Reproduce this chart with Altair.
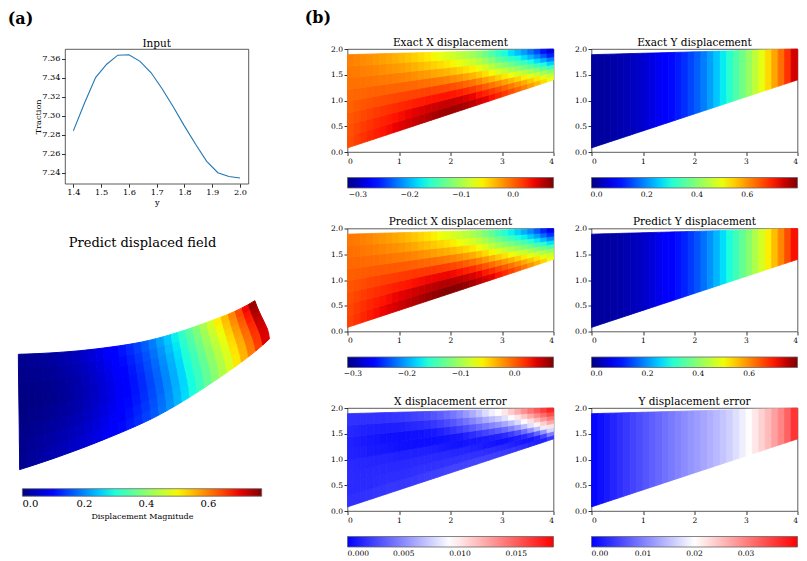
import math
import altair as alt
import numpy as np
import pandas as pd

FONT = "DejaVu Serif"

# ---------------------------------------------------------------- input load
input_y = [1.40, 1.44, 1.48, 1.52, 1.56, 1.60, 1.64, 1.68,
           1.72, 1.76, 1.80, 1.84, 1.88, 1.92, 1.96, 2.00]
traction = [7.284, 7.313, 7.340, 7.354, 7.3635, 7.364, 7.357, 7.345,
            7.328, 7.309, 7.289, 7.270, 7.252, 7.240, 7.236, 7.2345]

# ---------------------------------------------------------------- beam mesh
# x stations of the mesh and fractions of the local depth (lower edge -> upper edge)
beam_x = [0.0, 0.125, 0.25, 0.375, 0.5, 0.625, 0.75, 0.875, 1.0, 1.125, 1.25,
          1.375, 1.5, 1.625, 1.75, 1.875, 2.0, 2.125, 2.25, 2.375, 2.5, 2.625,
          2.75, 2.875, 3.0, 3.125, 3.25, 3.375, 3.5, 3.625, 3.75, 3.875, 4.0]
beam_s = [0.0, 0.125, 0.25, 0.375, 0.5, 0.625, 0.75, 0.875, 1.0]
lower_edge = [0.08, 1.40]   # y of the lower boundary at x = 0 and x = 4
upper_edge = [1.89, 2.00]   # y of the upper boundary at x = 0 and x = 4
BEAM_LEN = 4.0

# exact horizontal displacement, one row per depth fraction in beam_s
exact_ux = [
    [0.008, 0.014, 0.020, 0.025, 0.030, 0.034, 0.038, 0.042, 0.046, 0.050, 0.055, 0.059, 0.063, 0.067, 0.070, 0.073, 0.074,
     0.073, 0.070, 0.066, 0.060, 0.053, 0.046, 0.038, 0.030, 0.021, 0.012, 0.001, -0.010, -0.022, -0.034, -0.050, -0.070],
    [0.007, 0.012, 0.017, 0.022, 0.026, 0.030, 0.033, 0.037, 0.040, 0.044, 0.048, 0.051, 0.054, 0.057, 0.060, 0.062, 0.063,
     0.061, 0.058, 0.054, 0.048, 0.041, 0.033, 0.025, 0.016, 0.007, -0.003, -0.014, -0.025, -0.037, -0.050, -0.066, -0.084],
    [0.004, 0.009, 0.013, 0.017, 0.020, 0.023, 0.026, 0.029, 0.031, 0.034, 0.036, 0.039, 0.041, 0.043, 0.044, 0.045, 0.045,
     0.043, 0.039, 0.034, 0.028, 0.020, 0.012, 0.003, -0.007, -0.016, -0.026, -0.037, -0.049, -0.062, -0.076, -0.090, -0.106],
    [0.002, 0.005, 0.008, 0.011, 0.013, 0.015, 0.016, 0.018, 0.019, 0.021, 0.022, 0.023, 0.024, 0.024, 0.024, 0.024, 0.023,
     0.020, 0.015, 0.009, 0.003, -0.006, -0.015, -0.025, -0.035, -0.045, -0.056, -0.068, -0.080, -0.093, -0.108, -0.124, -0.142],
    [-0.001, 0.001, 0.003, 0.004, 0.005, 0.006, 0.006, 0.007, 0.007, 0.007, 0.007, 0.006, 0.005, 0.004, 0.003, 0.001, -0.002,
     -0.006, -0.011, -0.017, -0.024, -0.034, -0.044, -0.055, -0.066, -0.077, -0.088, -0.100, -0.113, -0.127, -0.143, -0.160, -0.180],
    [-0.004, -0.003, -0.003, -0.003, -0.003, -0.003, -0.004, -0.005, -0.006, -0.007, -0.009, -0.011, -0.013, -0.016, -0.019, -0.022, -0.026,
     -0.031, -0.037, -0.043, -0.050, -0.061, -0.072, -0.085, -0.097, -0.108, -0.120, -0.132, -0.145, -0.160, -0.177, -0.196, -0.218],
    [-0.007, -0.007, -0.008, -0.009, -0.010, -0.012, -0.014, -0.016, -0.018, -0.020, -0.023, -0.027, -0.031, -0.035, -0.039, -0.043, -0.048,
     -0.054, -0.061, -0.068, -0.075, -0.087, -0.099, -0.112, -0.125, -0.137, -0.150, -0.163, -0.176, -0.192, -0.210, -0.231, -0.254],
    [-0.010, -0.011, -0.013, -0.015, -0.017, -0.020, -0.023, -0.026, -0.029, -0.033, -0.037, -0.042, -0.047, -0.052, -0.057, -0.063, -0.069,
     -0.076, -0.083, -0.090, -0.098, -0.111, -0.124, -0.138, -0.152, -0.165, -0.178, -0.191, -0.204, -0.221, -0.240, -0.262, -0.287],
    [-0.012, -0.014, -0.017, -0.020, -0.023, -0.026, -0.030, -0.034, -0.038, -0.043, -0.048, -0.054, -0.060, -0.066, -0.073, -0.080, -0.087,
     -0.094, -0.102, -0.110, -0.118, -0.131, -0.145, -0.159, -0.174, -0.187, -0.201, -0.214, -0.228, -0.245, -0.265, -0.288, -0.315],
]

# absolute error of the predicted horizontal displacement
err_ux = [
    [0.0018, 0.0018, 0.0018, 0.0019, 0.0020, 0.0020, 0.0020, 0.0021, 0.0021, 0.0021, 0.0022, 0.0022, 0.0023, 0.0024, 0.0025, 0.0025, 0.0026,
     0.0027, 0.0027, 0.0027, 0.0027, 0.0027, 0.0026, 0.0026, 0.0025, 0.0024, 0.0023, 0.0021, 0.0019, 0.0017, 0.0014, 0.0011, 0.0008],
    [0.0016, 0.0016, 0.0016, 0.0016, 0.0017, 0.0017, 0.0018, 0.0018, 0.0018, 0.0018, 0.0018, 0.0019, 0.0020, 0.0020, 0.0020, 0.0021, 0.0021,
     0.0021, 0.0021, 0.0021, 0.0021, 0.0020, 0.0020, 0.0019, 0.0018, 0.0017, 0.0015, 0.0013, 0.0010, 0.0007, 0.0005, 0.0018, 0.0040],
    [0.0014, 0.0014, 0.0014, 0.0014, 0.0014, 0.0014, 0.0014, 0.0014, 0.0014, 0.0014, 0.0015, 0.0015, 0.0015, 0.0015, 0.0015, 0.0015, 0.0015,
     0.0015, 0.0015, 0.0015, 0.0014, 0.0013, 0.0012, 0.0011, 0.0010, 0.0009, 0.0007, 0.0005, 0.0002, 0.0011, 0.0025, 0.0048, 0.0075],
    [0.0016, 0.0016, 0.0015, 0.0015, 0.0015, 0.0015, 0.0015, 0.0015, 0.0015, 0.0015, 0.0015, 0.0015, 0.0015, 0.0015, 0.0014, 0.0014, 0.0013,
     0.0012, 0.0011, 0.0010, 0.0008, 0.0006, 0.0004, 0.0002, 0.0002, 0.0005, 0.0010, 0.0019, 0.0030, 0.0045, 0.0062, 0.0081, 0.0100],
    [0.0013, 0.0013, 0.0012, 0.0012, 0.0011, 0.0011, 0.0010, 0.0010, 0.0009, 0.0009, 0.0008, 0.0008, 0.0007, 0.0007, 0.0006, 0.0004, 0.0002,
     0.0001, 0.0002, 0.0005, 0.0009, 0.0012, 0.0016, 0.0020, 0.0025, 0.0031, 0.0038, 0.0049, 0.0062, 0.0076, 0.0092, 0.0106, 0.0120],
    [0.0011, 0.0010, 0.0009, 0.0008, 0.0007, 0.0006, 0.0005, 0.0004, 0.0003, 0.0002, 0.0002, 0.0002, 0.0002, 0.0003, 0.0004, 0.0007, 0.0011,
     0.0014, 0.0018, 0.0022, 0.0027, 0.0031, 0.0036, 0.0040, 0.0045, 0.0053, 0.0062, 0.0073, 0.0086, 0.0099, 0.0113, 0.0126, 0.0138],
    [0.0012, 0.0011, 0.0010, 0.0009, 0.0008, 0.0007, 0.0007, 0.0007, 0.0007, 0.0008, 0.0009, 0.0010, 0.0011, 0.0013, 0.0015, 0.0019, 0.0023,
     0.0027, 0.0032, 0.0037, 0.0043, 0.0049, 0.0055, 0.0060, 0.0066, 0.0075, 0.0084, 0.0095, 0.0107, 0.0119, 0.0131, 0.0142, 0.0153],
    [0.0016, 0.0015, 0.0015, 0.0014, 0.0014, 0.0014, 0.0014, 0.0014, 0.0015, 0.0016, 0.0018, 0.0019, 0.0021, 0.0023, 0.0026, 0.0030, 0.0034,
     0.0039, 0.0045, 0.0051, 0.0058, 0.0066, 0.0074, 0.0080, 0.0086, 0.0095, 0.0105, 0.0116, 0.0127, 0.0137, 0.0148, 0.0158, 0.0168],
    [0.0020, 0.0020, 0.0020, 0.0020, 0.0021, 0.0021, 0.0022, 0.0023, 0.0024, 0.0025, 0.0027, 0.0029, 0.0031, 0.0034, 0.0037, 0.0041, 0.0045,
     0.0051, 0.0057, 0.0065, 0.0073, 0.0082, 0.0092, 0.0099, 0.0106, 0.0116, 0.0126, 0.0136, 0.0146, 0.0155, 0.0165, 0.0174, 0.0183],
]

# exact vertical displacement along the beam (at beam_x)
exact_uy = [0.000, 0.001, 0.003, 0.006, 0.010, 0.015, 0.021, 0.028, 0.036, 0.046, 0.057,
            0.069, 0.082, 0.096, 0.111, 0.128, 0.148, 0.171, 0.197, 0.226, 0.257, 0.289,
            0.323, 0.359, 0.397, 0.436, 0.476, 0.517, 0.559, 0.606, 0.656, 0.711, 0.770]

# absolute error of the predicted vertical displacement (at beam_x)
err_uy = [0.0000, 0.0008, 0.0016, 0.0024, 0.0032, 0.0040, 0.0048, 0.0056, 0.0064, 0.0071, 0.0078,
          0.0085, 0.0092, 0.0099, 0.0106, 0.0113, 0.0120, 0.0127, 0.0134, 0.0141, 0.0149, 0.0158,
          0.0168, 0.0180, 0.0194, 0.0210, 0.0227, 0.0245, 0.0264, 0.0285, 0.0308, 0.0338, 0.0380]

# predicted fields: prediction = exact field shifted by its error
pred_ux = [[u + e for u, e in zip(ru, re)] for ru, re in zip(exact_ux, err_ux)]
pred_uy = [u - e for u, e in zip(exact_uy, err_uy)]

# colour bar limits
exact_x_range = (-0.32, 0.078)
pred_x_range = (-0.31, 0.072)
exact_y_range = (-0.02, 0.80)
pred_y_range = (-0.02, 0.79)
err_x_range = (0.0, 0.0183)
err_y_range = (0.0, 0.040)
mag_range = (0.0, 0.772)

# ---------------------------------------------------------------- colormaps
JET_R = [(0.0, 0.0), (0.35, 0.0), (0.66, 1.0), (0.89, 1.0), (1.0, 0.5)]
JET_G = [(0.0, 0.0), (0.125, 0.0), (0.375, 1.0), (0.64, 1.0), (0.91, 0.0), (1.0, 0.0)]
JET_B = [(0.0, 0.5), (0.11, 1.0), (0.34, 1.0), (0.65, 0.0), (1.0, 0.0)]
JET_T = sorted({t for seg in (JET_R, JET_G, JET_B) for t, _ in seg})


def _channel(seg, t):
    return float(np.interp(t, [a for a, _ in seg], [b for _, b in seg]))


def _hex(r, g, b):
    return "#%02x%02x%02x" % tuple(int(round(c * 255)) for c in (r, g, b))


JET_COLORS = [_hex(_channel(JET_R, t), _channel(JET_G, t), _channel(JET_B, t)) for t in JET_T]


def jet(lo, hi, edge_pad=0.0):
    # edge_pad keeps the outline scale distinct from the fill scale (separate legends)
    dom = [lo + t * (hi - lo) for t in JET_T]
    dom[-1] += edge_pad
    return alt.Scale(domain=dom, range=JET_COLORS, interpolate="rgb", clamp=True)


def bwr(lo, hi, edge_pad=0.0):
    return alt.Scale(domain=[lo, (lo + hi) / 2, hi + edge_pad],
                     range=["#0000ff", "#ffffff", "#ff0000"], interpolate="rgb", clamp=True)


# ---------------------------------------------------------------- geometry helpers
def edge_y(x, edge):
    return edge[0] + (edge[1] - edge[0]) * x / BEAM_LEN


def node_y(x, s):
    lo, hi = edge_y(x, lower_edge), edge_y(x, upper_edge)
    return lo + s * (hi - lo)


def mesh_cells(grid):
    """Quadrilateral cells of the beam mesh as two-point area segments."""
    rows, cid = [], 0
    for i in range(len(beam_s) - 1):
        for j in range(len(beam_x) - 1):
            v = (grid[i][j] + grid[i][j + 1] + grid[i + 1][j] + grid[i + 1][j + 1]) / 4
            for xx in (beam_x[j], beam_x[j + 1]):
                rows.append(dict(cell=cid, x=xx, y=node_y(xx, beam_s[i]),
                                 y2=node_y(xx, beam_s[i + 1]), v=v))
            cid += 1
    return pd.DataFrame(rows)


def strip_cells(values):
    """Full-depth strips for a field that only varies along the beam."""
    rows = []
    for j in range(len(beam_x) - 1):
        v = (values[j] + values[j + 1]) / 2
        for xx in (beam_x[j], beam_x[j + 1]):
            rows.append(dict(cell=j, x=xx, y=node_y(xx, 0.0), y2=node_y(xx, 1.0), v=v))
    return pd.DataFrame(rows)


def label(text, dx, dy, size, weight="normal", align="center"):
    """A text placed relative to the top-left corner of a plot (titles and tags)."""
    return alt.Chart(pd.DataFrame({"t": [text]})).mark_text(
        font=FONT, fontSize=size, fontWeight=weight, align=align, baseline="alphabetic",
        color="black",
    ).encode(text="t:N", x=alt.value(dx), y=alt.value(dy))


# ---------------------------------------------------------------- field panels
PW, PH = 206, 103


def field_panel(df, title, scale_fn, rng, ticks, fmt, tag=None):
    legend = alt.Legend(type="gradient", orient="none", legendX=0, legendY=128.5,
                        direction="horizontal", gradientLength=PW, gradientThickness=10.5,
                        title=None, values=ticks, format=fmt, labelFont=FONT,
                        labelFontSize=7.5, labelColor="black", labelAlign="center",
                        labelOffset=2.5, labelOverlap=False, gradientStrokeColor="#666",
                        gradientStrokeWidth=0.8, padding=0)
    field = alt.Chart(df).mark_area(opacity=1, strokeWidth=0.8).encode(
        x=alt.X("x:Q", scale=alt.Scale(domain=[0, 4], nice=False, zero=False),
                axis=alt.Axis(values=[0, 1, 2, 3, 4], format="d", title=None)),
        y=alt.Y("y:Q", stack=None, scale=alt.Scale(domain=[0, 2], nice=False, zero=False),
                axis=alt.Axis(values=[0, 0.5, 1, 1.5, 2], format=".1f", title=None)),
        y2="y2:Q",
        detail="cell:N",
        color=alt.Color("v:Q", scale=scale_fn(*rng), legend=legend),
        stroke=alt.Stroke("v:Q", scale=scale_fn(*rng, edge_pad=1e-9), legend=None),
    )
    layers = [field, label(title, PW / 2, -3.3, 10.5)]
    if tag is not None:
        layers.append(tag)
    return alt.layer(*layers).properties(width=PW, height=PH)


p_exact_x = field_panel(mesh_cells(exact_ux), "Exact X displacement", jet, exact_x_range,
                        [-0.3, -0.2, -0.1, 0.0], ".1f",
                        tag=label("(b)", -42.7, -25.6, 16, "bold", "left"))
p_exact_y = field_panel(strip_cells(exact_uy), "Exact Y displacement", jet, exact_y_range,
                        [0.0, 0.2, 0.4, 0.6], ".1f")
p_pred_x = field_panel(mesh_cells(pred_ux), "Predict X displacement", jet, pred_x_range,
                       [-0.3, -0.2, -0.1, 0.0], ".1f")
p_pred_y = field_panel(strip_cells(pred_uy), "Predict Y displacement", jet, pred_y_range,
                       [0.0, 0.2, 0.4, 0.6], ".1f")
p_err_x = field_panel(mesh_cells(err_ux), "X displacement error", bwr, err_x_range,
                      [0.0, 0.005, 0.010, 0.015], ".3f")
p_err_y = field_panel(strip_cells(err_uy), "Y displacement error", bwr, err_y_range,
                      [0.0, 0.01, 0.02, 0.03], ".2f")

# ---------------------------------------------------------------- input chart
IW, IH = 183.4, 134.7
input_df = pd.DataFrame({"y": input_y, "traction": traction})
input_line = alt.Chart(input_df).mark_line(color="#1f77b4", strokeWidth=1.1).encode(
    x=alt.X("y:Q", scale=alt.Scale(domain=[1.37, 2.03], nice=False, zero=False),
            axis=alt.Axis(values=[1.4, 1.5, 1.6, 1.7, 1.8, 1.9, 2.0], format=".1f",
                          title="y", labelFontSize=8.2, titleFontSize=8.2, titlePadding=3)),
    y=alt.Y("traction:Q", scale=alt.Scale(domain=[7.2285, 7.370], nice=False, zero=False),
            axis=alt.Axis(values=[7.24, 7.26, 7.28, 7.30, 7.32, 7.34, 7.36], format=".2f",
                          title="Traction", labelFontSize=8.2, titleFontSize=8.2,
                          titlePadding=-1)),
)
input_chart = alt.layer(
    input_line,
    label("Input", IW / 2, -2.3, 10.5),
    label("(a)", -57.3, -24.6, 16, "bold", "left"),
).properties(width=IW, height=IH)

# ---------------------------------------------------------------- displaced beam
features = []
for i in range(len(beam_s) - 1):
    for j in range(len(beam_x) - 1):
        corners, mags = [], []
        for (ii, jj) in ((i, j), (i, j + 1), (i + 1, j + 1), (i + 1, j)):
            x0 = beam_x[jj]
            ux, uy = pred_ux[ii][jj], pred_uy[jj]
            corners.append([x0 + ux, node_y(x0, beam_s[ii]) + uy])
            mags.append(math.hypot(ux, uy))
        corners.append(corners[0])
        features.append({"type": "Feature",
                         "geometry": {"type": "Polygon", "coordinates": [corners]},
                         "properties": {"m": sum(mags) / 4}})

DISP_W, DISP_H = 155, 200
mag_legend = alt.Legend(type="gradient", orient="none", legendX=-42.6, legendY=237.7,
                        direction="horizontal", gradientLength=239.3, gradientThickness=7.5,
                        title="Displacement Magnitude", titleOrient="bottom",
                        titleAnchor="middle", titleFont=FONT, titleFontSize=8,
                        titleFontWeight="normal", titleColor="black", titlePadding=3,
                        values=[0.0, 0.2, 0.4, 0.6], format=".1f", labelFont=FONT,
                        labelFontSize=10, labelColor="black", labelAlign="center",
                        labelOffset=3, labelOverlap=False, gradientStrokeColor="#666",
                        gradientStrokeWidth=0.8, padding=0)
displaced = alt.Chart(alt.Data(values=features)).mark_geoshape(
    opacity=1, strokeWidth=1.0, clip=False
).encode(
    color=alt.Color("properties.m:Q", scale=jet(*mag_range), legend=mag_legend),
    stroke=alt.Stroke("properties.m:Q", scale=jet(*mag_range, edge_pad=1e-9), legend=None),
).project(type="identity", reflectY=True, scale=63.7, translate=[-46, 223.7]).properties(
    width=DISP_W, height=DISP_H,
    view=alt.ViewBackground(strokeWidth=0),
    title=alt.TitleParams("Predict displaced field", font=FONT, fontSize=13, offset=5, dy=4),
)

# ---------------------------------------------------------------- layout
IND = dict(color="independent", stroke="independent", x="independent", y="independent")

left_col = alt.vconcat(input_chart, displaced, spacing=67, bounds="flush").resolve_scale(**IND)

right_grid = alt.concat(
    p_exact_x, p_exact_y, p_pred_x, p_pred_y, p_err_x, p_err_y,
    columns=2, bounds="flush", spacing={"row": 76.5, "column": 38},
).resolve_scale(**IND)

chart = alt.hconcat(
    left_col, right_grid, spacing=31.5,
    padding={"left": 7, "top": 10, "right": 0, "bottom": 0},
).resolve_scale(**IND).configure_view(
    stroke="#333", strokeWidth=0.8,
).configure_axis(
    labelFont=FONT, titleFont=FONT, labelColor="black", titleColor="black",
    labelFontSize=7.5, tickColor="#333", tickSize=3.5, labelPadding=1.5,
    domain=False, grid=False, titleFontWeight="normal",
).configure_title(
    font=FONT, fontWeight="normal", color="black",
)

chart.save("out.html", embed_options={"renderer": "svg", "actions": False})
